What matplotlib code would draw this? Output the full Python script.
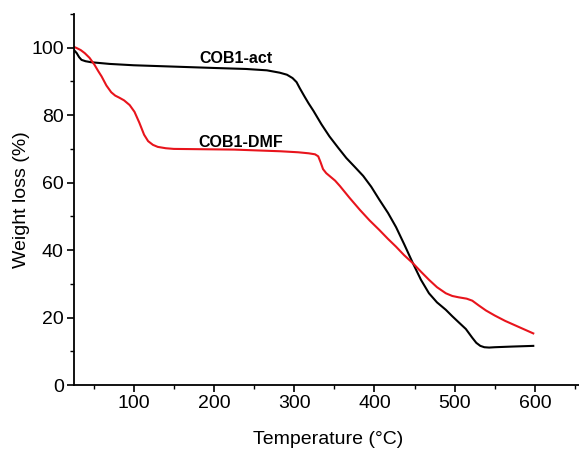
import matplotlib.pyplot as plt
from matplotlib.ticker import MultipleLocator

plt.rcParams['font.family'] = ['Liberation Sans', 'DejaVu Sans']

# COB1-act (black)
act_T = [26, 29, 32, 35, 40, 47, 70, 100, 150, 200, 240, 266, 282, 291, 298, 303, 307,
         313, 318, 324, 334, 344, 355, 365, 375, 386, 396, 406, 417, 427, 437, 448,
         458, 468, 478, 489, 497, 505, 514, 522, 527, 532, 537, 543, 550, 572, 598]
act_W = [99.2, 98.4, 97.2, 96.4, 96.0, 95.7, 95.2, 94.8, 94.4, 94.0, 93.7, 93.3, 92.6,
         92.0, 91.0, 89.8, 88.0, 85.5, 83.5, 81.3, 77.3, 73.7, 70.3, 67.3, 64.8, 62.0,
         58.8, 55.0, 51.0, 46.8, 41.8, 36.1, 31.2, 27.2, 24.5, 22.3, 20.4, 18.6, 16.6,
         14.0, 12.5, 11.6, 11.2, 11.1, 11.2, 11.4, 11.6]

# COB1-DMF (red)
dmf_T = [26, 29, 34, 39, 45, 51, 56, 60, 66, 72, 77, 82, 88, 95, 101, 107, 113, 118,
         124, 130, 140, 150, 225, 283, 305, 318, 326, 330, 333, 336, 340, 345, 351, 357,
         369, 382, 394, 406, 417, 427, 437, 448, 458, 468, 478, 489, 497, 505, 515, 522,
         530, 539, 550, 563, 580, 598]
dmf_W = [100.2, 99.9, 99.3, 98.4, 97.0, 95.0, 93.0, 91.5, 88.8, 86.8, 85.8, 85.2, 84.4,
         83.0, 81.0, 77.8, 74.2, 72.3, 71.2, 70.6, 70.2, 70.0, 69.8, 69.3, 69.0, 68.7,
         68.4, 67.8, 66.0, 64.0, 62.8, 61.8, 60.6, 59.0, 55.5, 51.9, 48.8, 46.0, 43.3,
         41.0, 38.5, 36.1, 33.6, 31.2, 29.0, 27.2, 26.4, 26.0, 25.6, 25.0, 23.6, 22.1,
         20.6, 19.0, 17.2, 15.3]

fig = plt.figure(figsize=(5.79, 4.54), dpi=100)
ax = fig.add_axes([73.5 / 579, 69 / 454, 0.88, 371 / 454])

ax.plot(act_T, act_W, color='black', lw=1.5)
ax.plot(dmf_T, dmf_W, color='#e8141c', lw=1.5)

ax.text(227, 96.8, 'COB1-act', fontsize=11.5, fontweight='bold', ha='center', va='center')
ax.text(233, 72.0, 'COB1-DMF', fontsize=11.5, fontweight='bold', ha='center', va='center')

ax.set_xlim(25, 660)
ax.set_ylim(0, 110)
ax.xaxis.set_major_locator(MultipleLocator(100))
ax.xaxis.set_minor_locator(MultipleLocator(50))
ax.yaxis.set_minor_locator(MultipleLocator(10))
ax.set_yticks([0, 20, 40, 60, 80, 100])

for s in ['top', 'right']:
    ax.spines[s].set_visible(False)
for s in ['left', 'bottom']:
    ax.spines[s].set_linewidth(1.3)

ax.tick_params(which='major', direction='out', length=5, width=1.2, labelsize=14, pad=2)
ax.tick_params(which='minor', direction='out', length=3, width=1.0)

ax.set_xlabel('Temperature (°C)', fontsize=14, labelpad=14)
ax.set_ylabel('Weight loss (%)', fontsize=14, labelpad=1)

fig.savefig('out.png', dpi=100)
